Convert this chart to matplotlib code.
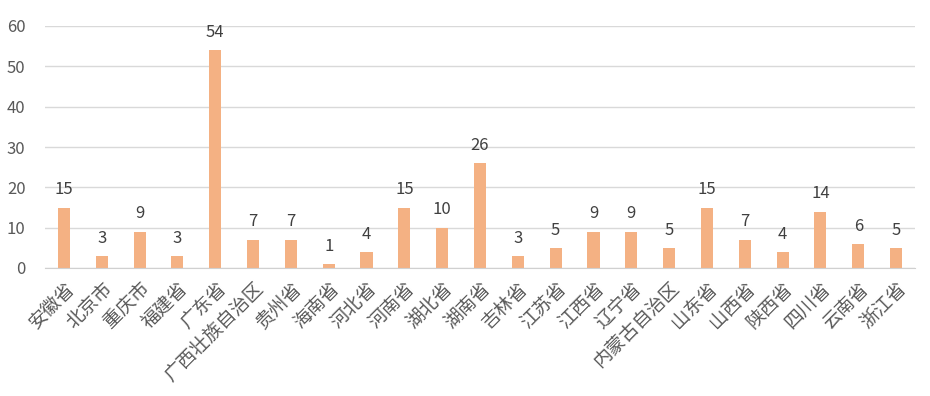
import matplotlib
matplotlib.use('Agg')
import matplotlib.pyplot as plt

plt.rcParams['font.family'] = ['Noto Sans CJK SC', 'DejaVu Sans']

# data
provinces = ['安徽省', '北京市', '重庆市', '福建省', '广东省', '广西壮族自治区',
             '贵州省', '海南省', '河北省', '河南省', '湖北省', '湖南省', '吉林省',
             '江苏省', '江西省', '辽宁省', '内蒙古自治区', '山东省', '山西省',
             '陕西省', '四川省', '云南省', '浙江省']
counts = [15, 3, 9, 3, 54, 7, 7, 1, 4, 15, 10, 26, 3, 5, 9, 9, 5, 15, 7, 4,
          14, 6, 5]
yticks = [0, 10, 20, 30, 40, 50, 60]

# figure
fig = plt.figure(figsize=(9.3, 3.96), dpi=100)
ax = fig.add_axes([45/930, 1-268/396, 870/930, 242/396])

x = range(len(provinces))
ax.bar(x, counts, width=0.32, color='#F4B183', zorder=2)
for xi, v in zip(x, counts):
    ax.text(xi, v + 2.3, str(v), ha='center', va='bottom', fontsize=12,
            color='#404040')

ax.set_xlim(-0.5, len(provinces) - 0.5)
ax.set_ylim(0, 60)
ax.set_yticks(yticks)
ax.grid(axis='y', color='#D9D9D9', linewidth=1, zorder=0)
ax.set_axisbelow(True)
for s in ['top', 'right', 'left']:
    ax.spines[s].set_visible(False)
ax.spines['bottom'].set_color('#D0D0D0')
ax.tick_params(axis='both', length=0, colors='#595959')
ax.tick_params(axis='y', labelsize=12, pad=14)
ax.tick_params(axis='x', pad=7)
ax.set_xticks(list(x))
ax.set_xticklabels(provinces, rotation=45, ha='right', va='top',
                   rotation_mode='anchor', fontsize=13.5)

fig.savefig('out.png', dpi=100)
